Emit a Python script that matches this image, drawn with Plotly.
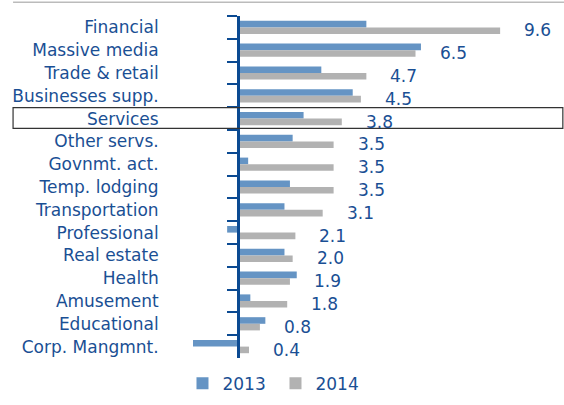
import plotly.graph_objects as go

categories = ["Financial", "Massive media", "Trade & retail", "Businesses supp.", "Services",
              "Other servs.", "Govnmt. act.", "Temp. lodging", "Transportation", "Professional",
              "Real estate", "Health", "Amusement", "Educational", "Corp. Mangmnt."]
values_2013 = [4.7, 6.7, 3.05, 4.2, 2.4, 2.0, 0.37, 1.9, 1.7, -0.4, 1.7, 2.15, 0.45, 1.0, -1.65]
values_2014 = [9.6, 6.5, 4.7, 4.5, 3.8, 3.5, 3.5, 3.5, 3.1, 2.1, 2.0, 1.9, 1.8, 0.8, 0.4]
labels_2014 = ["9.6", "6.5", "4.7", "4.5", "3.8", "3.5", "3.5", "3.5", "3.1", "2.1", "2.0", "1.9", "1.8", "0.8", "0.4"]

BLUE = "#6594C4"
GRAY = "#B2B2B2"
AXIS = "#0B4A92"
TEXT = "#1A4F94"
FONT = "DejaVu Sans"

XMIN, XMAX = -2.2, 11.5

fig = go.Figure()
fig.add_trace(go.Bar(y=categories, x=values_2013, orientation="h", name="2013",
                     marker=dict(color=BLUE, line=dict(width=0))))
fig.add_trace(go.Bar(y=categories, x=values_2014, orientation="h", name="2014",
                     marker=dict(color=GRAY, line=dict(width=0))))

for c, v, t in zip(categories, values_2014, labels_2014):
    fig.add_annotation(x=v, y=c, text=t, showarrow=False, xanchor="left", yanchor="middle",
                       xshift=22, yshift=-3, font=dict(family=FONT, size=17, color=TEXT))

# Highlight box around Services
fig.add_shape(type="rect", xref="paper", yref="y", x0=-0.441, x1=1.029, y0=3.52, y1=4.43,
              line=dict(color="#333333", width=1.2), layer="above")
# top rule
fig.add_shape(type="line", xref="paper", yref="paper", x0=-0.441, x1=1.032, y0=1.04, y1=1.04,
              line=dict(color="#BBBBBB", width=1.5))

fig.update_layout(
    width=564, height=405,
    margin=dict(l=178, r=12, t=16, b=47, autoexpand=False),
    paper_bgcolor="white", plot_bgcolor="white",
    barmode="group", bargap=0.42, bargroupgap=0.0,
    font=dict(family=FONT, size=17, color=TEXT),
    showlegend=True,
    legend=dict(orientation="h", x=0.012, xanchor="left", y=-0.075, yanchor="middle",
                font=dict(family=FONT, size=17, color=TEXT), itemwidth=30,
                entrywidth=48, entrywidthmode="pixels", tracegroupgap=0),
    xaxis=dict(range=[XMIN, XMAX], showgrid=False, zeroline=False, showticklabels=False,
               showline=False, ticks=""),
    yaxis=dict(range=[14.5, -0.5], anchor="free", position=(0 - XMIN) / (XMAX - XMIN),
               showline=True, linecolor=AXIS, linewidth=3,
               ticks="outside", tickson="boundaries", ticklen=10, tickwidth=2, tickcolor=AXIS,
               showgrid=False, zeroline=False, ticklabelstandoff=75, automargin=False,
               tickfont=dict(family=FONT, size=17, color=TEXT)),
)

fig.write_html("out.html", config={"displayModeBar": False},
               post_script="document.body.style.margin='0';document.body.style.overflow='hidden';")
